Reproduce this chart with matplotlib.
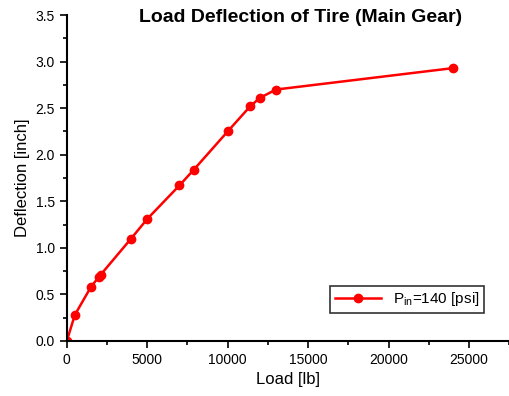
import numpy as np
import matplotlib.pyplot as plt
from matplotlib.ticker import MultipleLocator

plt.rcParams['font.family'] = ['Liberation Sans', 'DejaVu Sans']

# Load-deflection data
load_lb = [0, 500, 1500, 2000, 2100, 4000, 5000, 7000, 7900, 10000, 11400, 12000, 13000, 24000]
deflection_in = [0.0, 0.28, 0.58, 0.69, 0.71, 1.10, 1.31, 1.67, 1.84, 2.25, 2.52, 2.61, 2.70, 2.93]

fig = plt.figure(figsize=(5.1, 3.96), dpi=100)
ax = fig.add_axes([0.131, 0.139, 0.869, 0.823])

ax.plot(load_lb, deflection_in, color='red', linewidth=1.8, marker='o',
        markersize=6, label='P$_{\\mathregular{in}}$=140 [psi]')

ax.set_xlim(0, 27550)
ax.set_ylim(0, 3.5)
ax.xaxis.set_major_locator(MultipleLocator(5000))
ax.xaxis.set_minor_locator(MultipleLocator(2500))
ax.yaxis.set_major_locator(MultipleLocator(0.5))
ax.yaxis.set_minor_locator(MultipleLocator(0.25))
ax.yaxis.set_major_formatter(plt.FormatStrFormatter('%.1f'))

for side in ['top', 'right']:
    ax.spines[side].set_visible(False)
for side in ['left', 'bottom']:
    ax.spines[side].set_linewidth(1.5)
ax.tick_params(which='both', direction='out', width=1.2, labelsize=10)
ax.tick_params(which='major', length=5)
ax.tick_params(which='minor', length=3)

ax.set_xlabel('Load [lb]', fontsize=12)
ax.set_ylabel('Deflection [inch]', fontsize=12)
fig.text(0.59, 0.955, 'Load Deflection of Tire (Main Gear)', fontsize=14,
         fontweight='bold', ha='center', va='center')

leg = ax.legend(loc='lower right', bbox_to_anchor=(0.941, 0.086), fontsize=11,
                frameon=True, fancybox=False, edgecolor='black', handlelength=3,
                borderpad=0.3, borderaxespad=0)
leg.get_frame().set_linewidth(1.2)

fig.savefig('out.png', dpi=100)
